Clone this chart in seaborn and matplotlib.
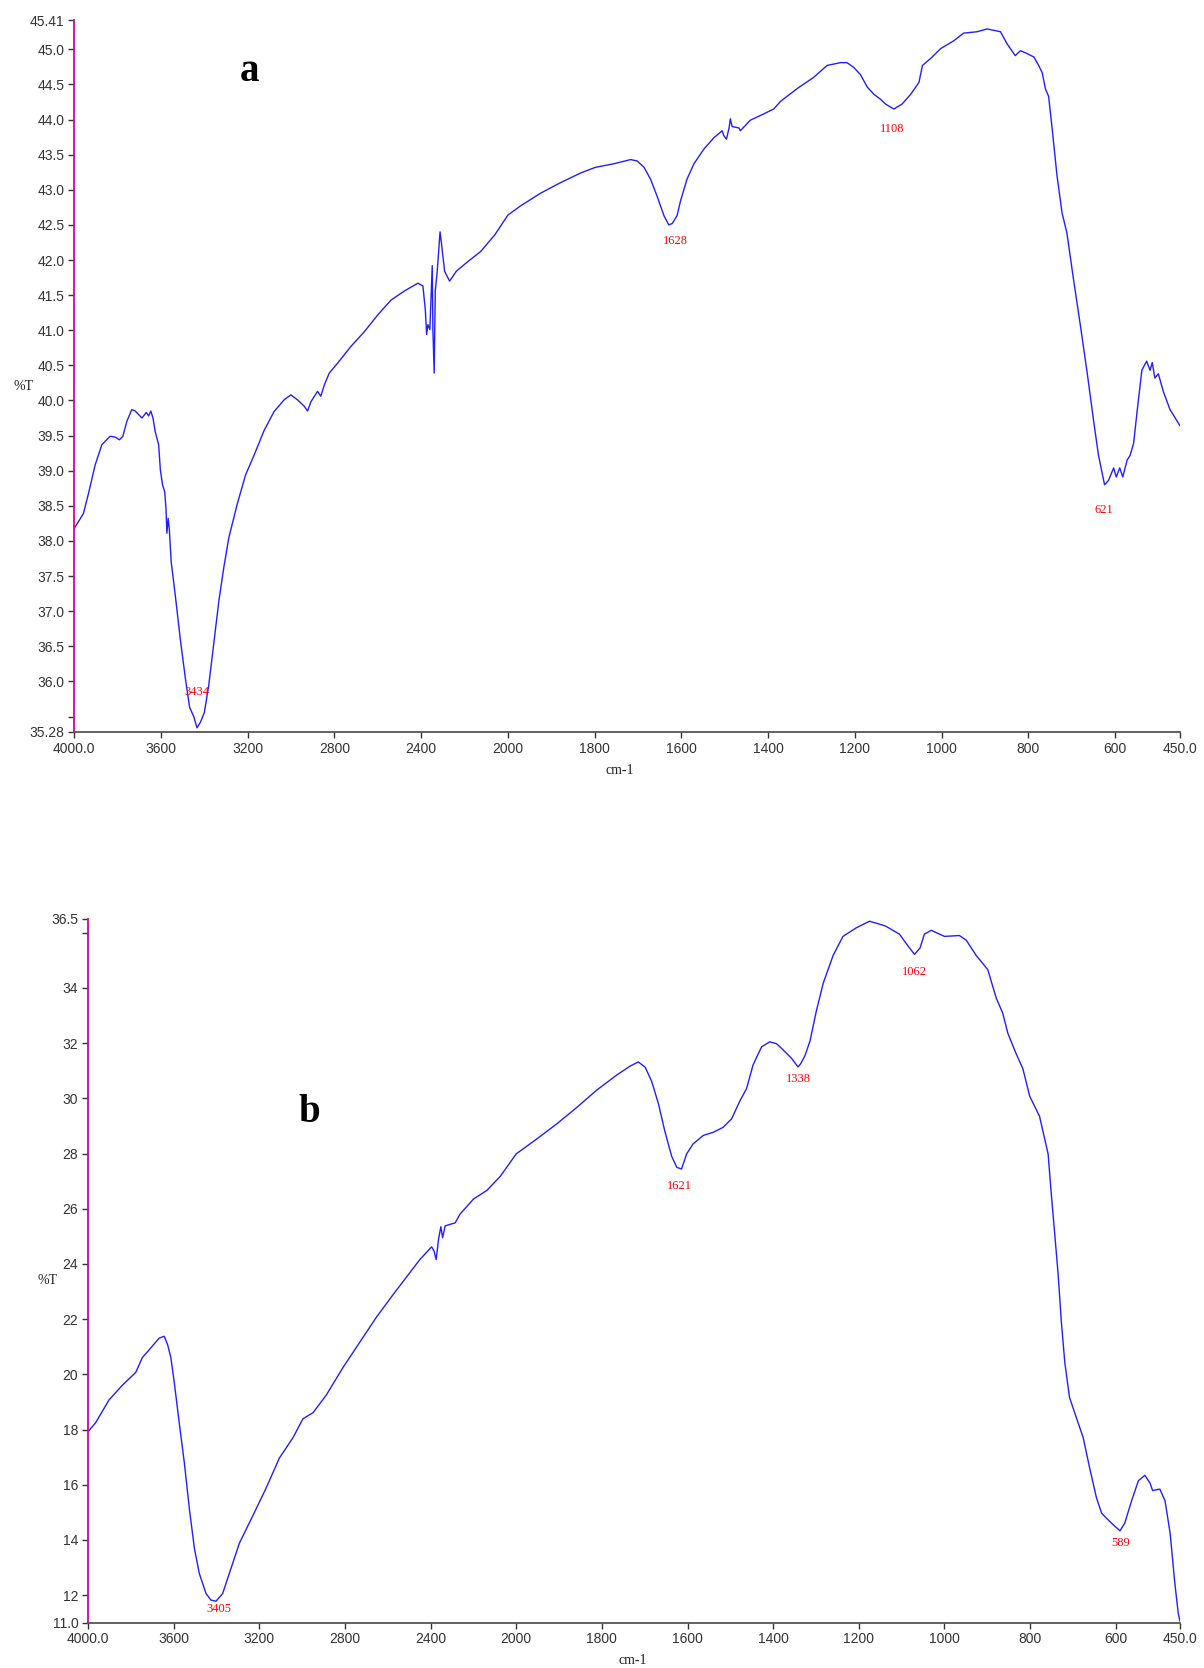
import numpy as np
import pandas as pd
import seaborn as sns
import matplotlib.pyplot as plt

# ---- spectrum a ----
a_wn = [4000, 3958, 3935, 3904, 3873, 3835, 3812, 3792, 3776, 3758,
        3735, 3719, 3688, 3668, 3657, 3647, 3637, 3627, 3611, 3603,
        3593, 3583, 3577, 3573, 3567, 3562, 3553, 3534, 3511, 3488,
        3468, 3449, 3434, 3418, 3400, 3380, 3357, 3333, 3310, 3287,
        3248, 3210, 3171, 3125, 3079, 3032, 3001, 2971, 2940, 2924,
        2909, 2878, 2863, 2847, 2824, 2786, 2724, 2662, 2600, 2539,
        2477, 2415, 2392, 2381, 2375, 2369, 2360, 2354, 2349, 2346,
        2340, 2335, 2326, 2313, 2307, 2292, 2269, 2238, 2184, 2126,
        2060, 2000, 1971, 1925, 1879, 1832, 1798, 1756, 1717, 1702,
        1686, 1671, 1656, 1640, 1629, 1621, 1610, 1602, 1587, 1571,
        1548, 1525, 1506, 1502, 1496, 1490, 1487, 1483, 1467, 1464,
        1441, 1410, 1387, 1371, 1333, 1295, 1264, 1233, 1218, 1202,
        1187, 1171, 1156, 1141, 1129, 1110, 1091, 1071, 1052, 1044,
        1025, 1002, 972, 949, 918, 895, 864, 849, 830, 818,
        803, 787, 776, 768, 760, 753, 745, 734, 722, 711,
        695, 680, 664, 649, 638, 624, 615, 603, 597, 589,
        582, 572, 565, 557, 549, 538, 527, 519, 514, 508,
        500, 488, 473, 450]
a_t = [38.18, 38.39, 38.67, 39.08, 39.37, 39.49, 39.48, 39.44, 39.49, 39.70,
       39.87, 39.85, 39.75, 39.83, 39.78, 39.85, 39.75, 39.56, 39.37, 39.01,
       38.80, 38.70, 38.46, 38.11, 38.32, 38.18, 37.70, 37.22, 36.60, 36.05,
       35.63, 35.50, 35.34, 35.42, 35.56, 35.94, 36.53, 37.15, 37.63, 38.05,
       38.53, 38.94, 39.22, 39.57, 39.84, 40.01, 40.08, 40.01, 39.92, 39.85,
       39.98, 40.13, 40.06, 40.22, 40.39, 40.53, 40.77, 40.98, 41.22, 41.43,
       41.56, 41.67, 41.63, 41.29, 40.94, 41.08, 41.01, 41.50, 41.92, 41.01,
       40.39, 41.56, 41.84, 42.40, 42.25, 41.84, 41.70, 41.84, 41.98, 42.12,
       42.36, 42.64, 42.77, 42.95, 43.10, 43.24, 43.32, 43.37, 43.43, 43.41,
       43.32, 43.15, 42.91, 42.63, 42.50, 42.52, 42.63, 42.84, 43.15, 43.37,
       43.58, 43.74, 43.84, 43.77, 43.72, 43.88, 44.01, 43.90, 43.88, 43.84,
       43.99, 44.08, 44.15, 44.26, 44.44, 44.60, 44.77, 44.81, 44.81, 44.74,
       44.64, 44.46, 44.36, 44.29, 44.22, 44.15, 44.22, 44.36, 44.53, 44.77,
       44.87, 45.01, 45.12, 45.23, 45.25, 45.29, 45.25, 45.08, 44.91, 44.98,
       44.94, 44.89, 44.77, 44.67, 44.43, 44.33, 43.88, 43.22, 42.67, 42.39,
       41.70, 41.08, 40.39, 39.70, 39.22, 38.80, 38.86, 39.04, 38.91, 39.04,
       38.91, 39.15, 39.22, 39.39, 39.84, 40.43, 40.56, 40.43, 40.54, 40.32,
       40.38, 40.12, 39.87, 39.64]
a_yticks = [45.41, 45.0, 44.5, 44.0, 43.5, 43.0, 42.5, 42.0, 41.5, 41.0,
            40.5, 40.0, 39.5, 39.0, 38.5, 38.0, 37.5, 37.0, 36.5, 36.0, 35.5, 35.28]
a_ylabels = ["45.41", "45.0", "44.5", "44.0", "43.5", "43.0", "42.5", "42.0", "41.5", "41.0",
             "40.5", "40.0", "39.5", "39.0", "38.5", "38.0", "37.5", "37.0", "36.5", "36.0", "", "35.28"]
a_peaks = ["3434", "1628", "1108", "621"]
a_peak_x = [3434, 1613, 1113, 626]
a_peak_y = [35.85, 42.27, 43.86, 38.44]

# ---- spectrum b ----
b_wn = [4000, 3964, 3902, 3839, 3777, 3746, 3714, 3668, 3644, 3628,
        3613, 3597, 3574, 3550, 3527, 3503, 3480, 3449, 3426, 3402,
        3371, 3340, 3293, 3230, 3168, 3106, 3043, 2996, 2949, 2887,
        2809, 2731, 2653, 2575, 2512, 2450, 2395, 2384, 2374, 2363,
        2352, 2344, 2332, 2285, 2263, 2200, 2138, 2075, 2000, 1952,
        1905, 1858, 1812, 1765, 1734, 1715, 1699, 1684, 1668, 1653,
        1637, 1625, 1614, 1602, 1587, 1563, 1540, 1517, 1497, 1478,
        1462, 1447, 1427, 1408, 1392, 1377, 1357, 1342, 1336, 1326,
        1314, 1299, 1283, 1260, 1237, 1206, 1175, 1151, 1137, 1105,
        1086, 1070, 1057, 1047, 1031, 1000, 965, 949, 926, 899,
        879, 864, 852, 833, 817, 801, 778, 766, 758, 751,
        743, 735, 727, 719, 708, 692, 676, 661, 645, 633,
        622, 606, 590, 579, 563, 547, 532, 520, 514, 497,
        485, 473, 462, 454, 450]
b_t = [17.92, 18.25, 19.07, 19.61, 20.07, 20.61, 20.89, 21.31, 21.38, 21.07,
       20.61, 19.70, 18.25, 16.79, 15.15, 13.69, 12.78, 12.06, 11.82, 11.78,
       12.06, 12.78, 13.88, 14.88, 15.88, 16.97, 17.70, 18.39, 18.61, 19.25,
       20.25, 21.16, 22.07, 22.89, 23.53, 24.16, 24.62, 24.47, 24.16, 24.89,
       25.35, 24.95, 25.38, 25.49, 25.80, 26.35, 26.66, 27.17, 27.99, 28.53,
       29.08, 29.68, 30.30, 30.85, 31.17, 31.32, 31.13, 30.63, 29.81, 28.81,
       27.90, 27.50, 27.44, 27.99, 28.35, 28.66, 28.77, 28.95, 29.26, 29.90,
       30.36, 31.21, 31.87, 32.05, 31.98, 31.76, 31.45, 31.14, 31.25, 31.54,
       32.08, 33.18, 34.18, 35.18, 35.87, 36.18, 36.42, 36.31, 36.24, 35.95,
       35.54, 35.22, 35.45, 35.95, 36.09, 35.87, 35.90, 35.73, 35.18, 34.67,
       33.63, 33.09, 32.36, 31.63, 31.08, 30.08, 29.35, 28.53, 27.99, 26.62,
       25.17, 23.71, 21.89, 20.43, 19.16, 18.43, 17.70, 16.61, 15.52, 14.97,
       14.79, 14.55, 14.33, 14.61, 15.42, 16.15, 16.34, 16.06, 15.79, 15.84,
       15.42, 14.24, 12.42, 11.33, 11.05]
b_yticks = [36.5, 36, 34, 32, 30, 28, 26, 24, 22, 20, 18, 16, 14, 12, 11.0]
b_ylabels = ["36.5", "", "34", "32", "30", "28", "26", "24", "22", "20", "18", "16", "14", "12", "11.0"]
b_peaks = ["3405", "1621", "1338", "1062", "589"]
b_peak_x = [3387, 1619, 1341, 1070, 589]
b_peak_y = [11.51, 26.84, 30.70, 34.58, 13.88]

x_ticks = [4000, 3600, 3200, 2800, 2400, 2000, 1800, 1600, 1400, 1200, 1000, 800, 600, 450]
x_labels = ["4000.0", "3600", "3200", "2800", "2400", "2000", "1800", "1600",
            "1400", "1200", "1000", "800", "600", "450.0"]

LINE = "#1f1fff"
MAGENTA = "#d400a8"
W, H = 1204, 1668


def _fwd(x):
    # spectrometer style axis: above 2000 cm-1 is squeezed by 2
    x = np.asarray(x, dtype=float)
    return np.where(x > 2000, 2000 + (x - 2000) / 2.0, x)


def _inv(y):
    y = np.asarray(y, dtype=float)
    return np.where(y > 2000, 2000 + (y - 2000) * 2.0, y)


def _panel(fig, rect, wn, t, yticks, ylabels, peaks, px, py, letter, lpos, tpos, cmpos):
    ax = fig.add_axes(rect)
    ax.set_xscale("function", functions=(_fwd, _inv))
    df = pd.DataFrame({"wn": wn, "T": t})
    sns.lineplot(data=df, x="wn", y="T", ax=ax, color=LINE, lw=1.0,
                 sort=False, estimator=None)
    ax.set_xlim(4000, 450)
    ax.set_ylim(yticks[-1], yticks[0])
    ax.set_xticks(x_ticks)
    ax.set_xticklabels(x_labels)
    ax.set_yticks(yticks)
    ax.set_yticklabels(ylabels)
    ax.minorticks_off()
    ax.set_xlabel("")
    ax.set_ylabel("")

    for s in ["top", "right"]:
        ax.spines[s].set_visible(False)
    ax.spines["left"].set_color(MAGENTA)
    ax.spines["left"].set_linewidth(1.3)
    ax.spines["bottom"].set_color("#555555")
    ax.spines["bottom"].set_linewidth(1.3)
    ax.tick_params(axis="both", direction="out", length=4, width=1,
                   colors="#333333", labelsize=10, pad=3,
                   bottom=True, left=True)

    for lab, x, y in zip(peaks, px, py):
        ax.text(x, y, lab, color="red", fontsize=9, family="Liberation Serif",
                ha="center", va="center")
    ax.text(lpos[0], lpos[1], letter, fontsize=28, fontweight="bold",
            family="Liberation Serif", color="black", ha="center", va="center")

    fig.text(tpos[0] / W, 1 - tpos[1] / H, "%T", fontsize=10, color="#222222",
             family="Liberation Serif", ha="left", va="center")
    fig.text(cmpos[0] / W, 1 - cmpos[1] / H, "cm-1", fontsize=10, color="#222222",
             family="Liberation Serif", ha="center", va="center")
    return ax


sns.set_style("white")
plt.rcParams["font.family"] = ["Liberation Sans", "DejaVu Sans"]

fig = plt.figure(figsize=(W / 100, H / 100), dpi=100)

_panel(fig, [74.3 / W, 1 - 732 / H, (1180 - 74.3) / W, (732 - 20.5) / H],
       a_wn, a_t, a_yticks, a_ylabels, a_peaks, a_peak_x, a_peak_y,
       "a", (3191, 44.68), (13, 386), (620, 770))

_panel(fig, [88 / W, 1 - 1622.7 / H, (1180 - 88) / W, (1622.7 - 919) / H],
       b_wn, b_t, b_yticks, b_ylabels, b_peaks, b_peak_x, b_peak_y,
       "b", (2968, 29.5), (37, 1280), (633, 1660))

fig.savefig("out.png", dpi=100)
